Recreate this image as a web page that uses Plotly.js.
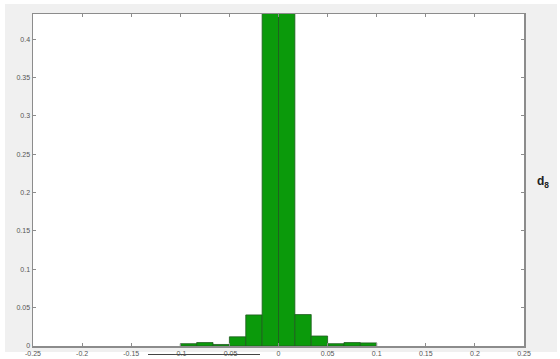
<!DOCTYPE html>
<html>
<head>
<meta charset="utf-8">
<script src="https://cdn.plot.ly/plotly-3.0.1.min.js"></script>
<style>
  html, body { margin: 0; padding: 0; background: #ffffff; }
  #frame { position: absolute; left: 5px; top: 4px; width: 552px; height: 348px; background: #f0f0f0; }
  #chart { position: absolute; left: 0; top: 0; width: 560px; height: 359px; }
  #strip { position: absolute; left: 148px; top: 354px; width: 112px; height: 1px; background: #444; }
</style>
</head>
<body>
<div id="frame"></div>
<div id="strip"></div>
<div id="chart"></div>
<script>
// Histogram of the d8 detail coefficients: 12 bins of width 1/60 between -0.1 and 0.1
const binEdges = [-0.1, -0.08333, -0.06667, -0.05, -0.03333, -0.01667, 0,
                  0.01667, 0.03333, 0.05, 0.06667, 0.08333, 0.1];
const binHeights = [0.003, 0.0045, 0.002, 0.012, 0.0405, 0.47,
                    0.47, 0.041, 0.013, 0.003, 0.0045, 0.004];
const xTickVals = [-0.25, -0.2, -0.15, -0.1, -0.05, 0, 0.05, 0.1, 0.15, 0.2, 0.25];
const xTickText = ['-0.25', '-0.2', '-0.15', '-0.1', '-0.05', '0', '0.05', '0.1', '0.15', '0.2', '0.25'];
const yTickVals = [0, 0.05, 0.1, 0.15, 0.2, 0.25, 0.3, 0.35, 0.4];
const yTickText = ['0', '0.05', '0.1', '0.15', '0.2', '0.25', '0.3', '0.35', '0.4'];
const panelLabel = 'd<sub>8</sub>';

const centers = binHeights.map((_, i) => (binEdges[i] + binEdges[i + 1]) / 2);
const widths = binHeights.map((_, i) => binEdges[i + 1] - binEdges[i]);

const trace = {
  type: 'bar',
  x: centers,
  y: binHeights,
  width: widths,
  marker: { color: '#0b9a0b', line: { color: '#1e5a1e', width: 0.8 } },
  hoverinfo: 'x+y'
};

const axisCommon = {
  showline: true,
  linecolor: '#8c8c8c',
  linewidth: 1.5,
  mirror: 'ticks',
  ticks: 'inside',
  ticklen: 3,
  tickcolor: '#8c8c8c',
  showgrid: false,
  zeroline: false,
  tickfont: { family: 'Liberation Sans, Arial, sans-serif', size: 7, color: '#555555' }
};

const layout = {
  width: 560,
  height: 359,
  margin: { l: 33, r: 36, t: 14, b: 13 },
  paper_bgcolor: 'rgba(0,0,0,0)',
  plot_bgcolor: '#ffffff',
  showlegend: false,
  bargap: 0,
  xaxis: Object.assign({}, axisCommon, {
    range: [-0.25, 0.25],
    tickmode: 'array',
    tickvals: xTickVals,
    ticktext: xTickText,
    ticklabelstandoff: 0
  }),
  yaxis: Object.assign({}, axisCommon, {
    range: [0, 0.433],
    tickmode: 'array',
    tickvals: yTickVals,
    ticktext: yTickText
  }),
  annotations: [{
    xref: 'paper', yref: 'paper',
    x: 1.022, y: 0.495,
    xanchor: 'left', yanchor: 'middle',
    text: '<b>' + panelLabel + '</b>',
    showarrow: false,
    font: { family: 'Liberation Sans, Arial, sans-serif', size: 12, color: '#222222' }
  }]
};

Plotly.newPlot('chart', [trace], layout, { displayModeBar: false, staticPlot: true });
</script>
</body>
</html>
